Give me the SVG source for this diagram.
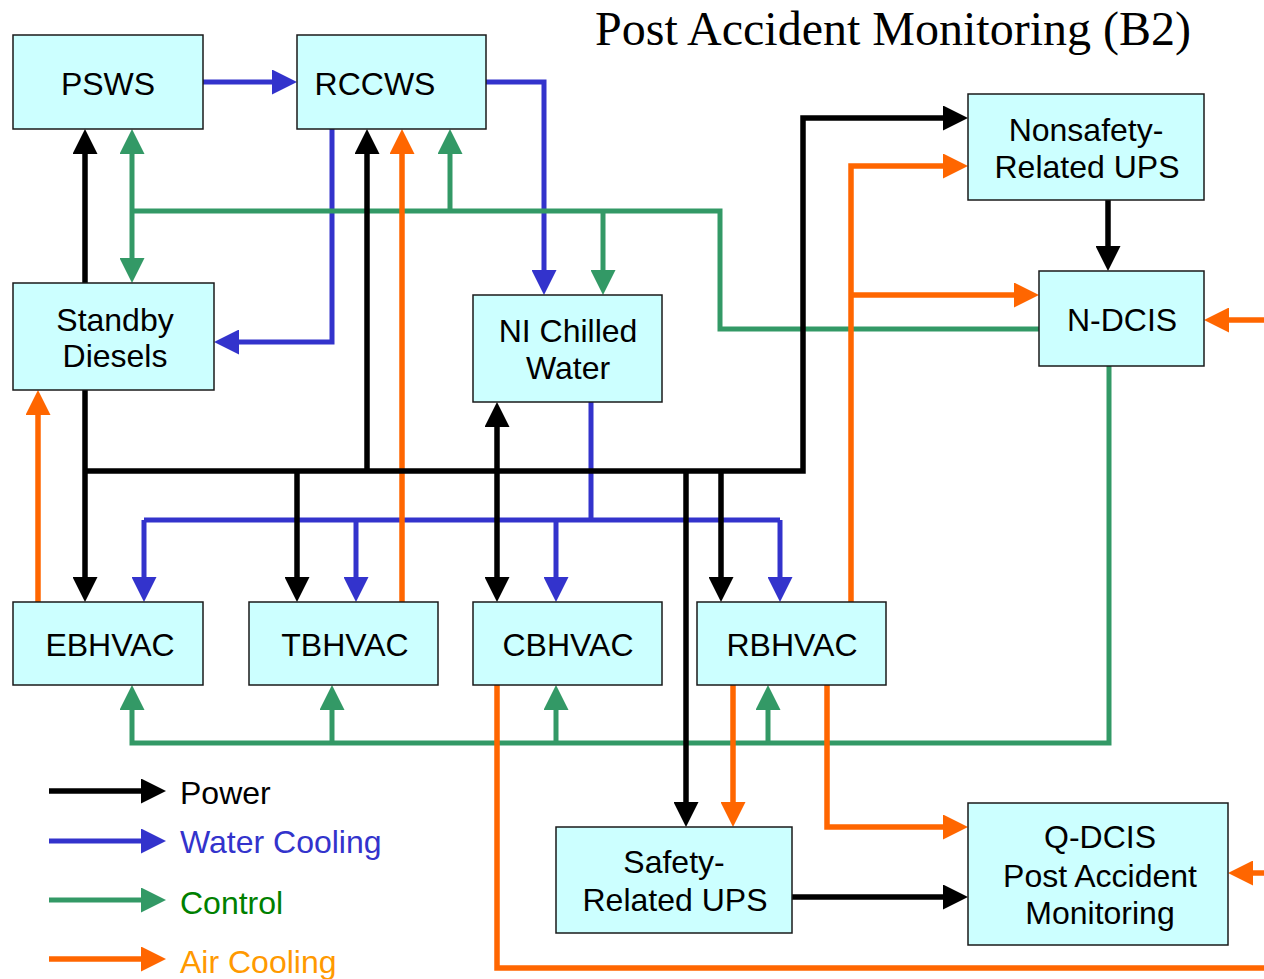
<svg xmlns="http://www.w3.org/2000/svg" width="1264" height="979" viewBox="0 0 1264 979">
<style>
.box{fill:#CCFFFF;stroke:#1a1a1a;stroke-width:1.5}
.t{font-family:"Liberation Sans",Arial,sans-serif;font-size:32px;text-anchor:middle;fill:#000}
.lg{font-family:"Liberation Sans",Arial,sans-serif;font-size:32px}
.k{stroke:#000;stroke-width:5.5;fill:none}
.b{stroke:#3333CC;stroke-width:5;fill:none}
.g{stroke:#339966;stroke-width:5;fill:none}
.o{stroke:#FF6600;stroke-width:5.5;fill:none}
.k.a{marker-end:url(#ak)}
.b.a{marker-end:url(#ab)}
.g.a{marker-end:url(#ag)}
.o.a{marker-end:url(#ao)}
</style>
<defs>
<marker id="ak" markerUnits="userSpaceOnUse" markerWidth="25" markerHeight="25" refX="5" refY="12.5" orient="auto"><path d="M0,0 L25,12.5 L0,25 z" fill="#000"/></marker>
<marker id="ab" markerUnits="userSpaceOnUse" markerWidth="25" markerHeight="25" refX="5" refY="12.5" orient="auto"><path d="M0,0 L25,12.5 L0,25 z" fill="#3333CC"/></marker>
<marker id="ag" markerUnits="userSpaceOnUse" markerWidth="25" markerHeight="25" refX="5" refY="12.5" orient="auto"><path d="M0,0 L25,12.5 L0,25 z" fill="#339966"/></marker>
<marker id="ao" markerUnits="userSpaceOnUse" markerWidth="25" markerHeight="25" refX="5" refY="12.5" orient="auto"><path d="M0,0 L25,12.5 L0,25 z" fill="#FF6600"/></marker>
</defs>
<rect width="1264" height="979" fill="#fff"/>
<text x="595" y="45" style="font-family:'Liberation Serif','Times New Roman',serif;font-size:48px;fill:#000">Post Accident Monitoring (B2)</text>
<g id="connectors">
<path class="b" d="M144,520 H780 M591,402 V520"/>
<path class="b a" d="M203,82 H277"/>
<path class="b a" d="M486,82 H544 V275"/>
<path class="b a" d="M332,129 V342 H234"/>
<path class="b a" d="M144,520 V582"/>
<path class="b a" d="M356,520 V582"/>
<path class="b a" d="M556,520 V582"/>
<path class="b a" d="M780,520 V582"/>
<path class="g" d="M132,211 H720 V329 H1039"/>
<path class="g a" d="M132,211 V149"/>
<path class="g a" d="M132,211 V263"/>
<path class="g a" d="M450,211 V149"/>
<path class="g a" d="M603,211 V275"/>
<path class="g a" d="M1109,366 V743 H132 V705"/>
<path class="g a" d="M332,743 V705"/>
<path class="g a" d="M556,743 V705"/>
<path class="g a" d="M768,743 V705"/>
<path class="o a" d="M38,602 V410"/>
<path class="o a" d="M402,602 V149"/>
<path class="o a" d="M851,602 V166 H948"/>
<path class="o a" d="M851,295 H1019"/>
<path class="o a" d="M1264,320 H1224"/>
<path class="o" d="M497,685 V968 H1264"/>
<path class="o a" d="M733,685 V807"/>
<path class="o a" d="M827,685 V827 H948"/>
<path class="o a" d="M1264,873 H1248"/>
<path class="k a" d="M85,471 V149"/>
<path class="k a" d="M85,471 V582"/>
<path class="k a" d="M85,471 H803 V118 H948"/>
<path class="k a" d="M367,471 V149"/>
<path class="k a" d="M297,471 V582"/>
<path class="k a" d="M497,500 V422"/>
<path class="k a" d="M497,500 V582"/>
<path class="k a" d="M686,471 V807"/>
<path class="k a" d="M721,471 V582"/>
<path class="k a" d="M1108,200 V251"/>
<path class="k a" d="M792,897 H948"/>
</g>
<g id="PSWS"><rect class="box" x="13" y="35" width="190" height="94"/><text class="t" x="108" y="95">PSWS</text></g>
<g id="RCCWS"><rect class="box" x="297" y="35" width="189" height="94"/><text class="t" x="375" y="95">RCCWS</text></g>
<g id="NonsafetyUPS"><rect class="box" x="968" y="94" width="236" height="106"/><text class="t" x="1086" y="141">Nonsafety-</text><text class="t" x="1087" y="178">Related UPS</text></g>
<g id="NDCIS"><rect class="box" x="1039" y="271" width="165" height="95"/><text class="t" x="1122" y="331">N-DCIS</text></g>
<g id="StandbyDiesels"><rect class="box" x="13" y="283" width="201" height="107"/><text class="t" x="115" y="331">Standby</text><text class="t" x="115" y="367">Diesels</text></g>
<g id="NIChilledWater"><rect class="box" x="473" y="295" width="189" height="107"/><text class="t" x="568" y="342">NI Chilled</text><text class="t" x="568" y="379">Water</text></g>
<g id="EBHVAC"><rect class="box" x="13" y="602" width="190" height="83"/><text class="t" x="110" y="656">EBHVAC</text></g>
<g id="TBHVAC"><rect class="box" x="249" y="602" width="189" height="83"/><text class="t" x="345" y="656">TBHVAC</text></g>
<g id="CBHVAC"><rect class="box" x="473" y="602" width="189" height="83"/><text class="t" x="568" y="656">CBHVAC</text></g>
<g id="RBHVAC"><rect class="box" x="697" y="602" width="189" height="83"/><text class="t" x="792" y="656">RBHVAC</text></g>
<g id="SafetyUPS"><rect class="box" x="556" y="827" width="236" height="106"/><text class="t" x="674" y="873">Safety-</text><text class="t" x="675" y="911">Related UPS</text></g>
<g id="QDCIS"><rect class="box" x="968" y="803" width="260" height="142"/><text class="t" x="1100" y="848">Q-DCIS</text><text class="t" x="1100" y="887">Post Accident</text><text class="t" x="1100" y="924">Monitoring</text></g>
<g id="legend">
<path class="k a" d="M49,791 H146"/>
<path class="b a" d="M49,841 H146"/>
<path class="g a" d="M49,900 H146"/>
<path class="o a" d="M49,959 H146"/>
<text class="lg" x="180" y="804" fill="#000">Power</text>
<text class="lg" x="180" y="853" fill="#3333CC">Water Cooling</text>
<text class="lg" x="180" y="914" fill="#008000">Control</text>
<text class="lg" x="180" y="973" fill="#FF9900">Air Cooling</text>
</g>
</svg>
